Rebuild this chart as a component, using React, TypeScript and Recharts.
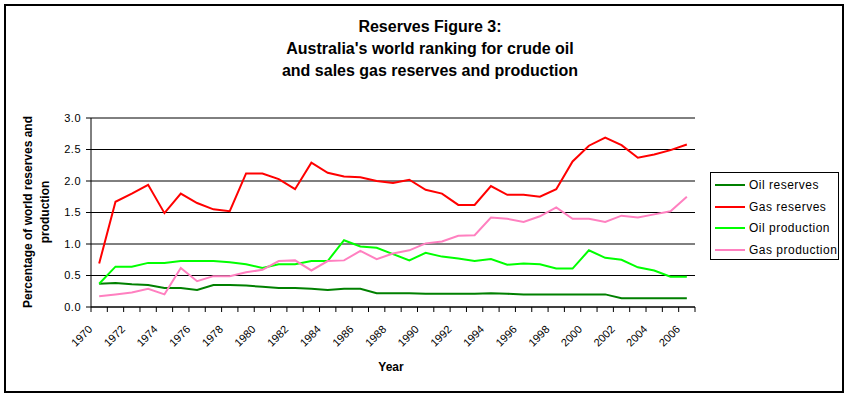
import React from 'react';
import { LineChart, Line, XAxis, YAxis, CartesianGrid, Legend } from 'recharts';

const years = [
  '1970', '1971', '1972', '1973', '1974', '1975', '1976', '1977', '1978', '1979',
  '1980', '1981', '1982', '1983', '1984', '1985', '1986', '1987', '1988', '1989',
  '1990', '1991', '1992', '1993', '1994', '1995', '1996', '1997', '1998', '1999',
  '2000', '2001', '2002', '2003', '2004', '2005', '2006',
];

const oilReserves = [
  0.37, 0.38, 0.36, 0.35, 0.3, 0.3, 0.27, 0.35, 0.35, 0.34,
  0.32, 0.3, 0.3, 0.29, 0.27, 0.29, 0.29, 0.22, 0.22, 0.22,
  0.21, 0.21, 0.21, 0.21, 0.22, 0.21, 0.2, 0.2, 0.2, 0.2,
  0.2, 0.2, 0.14, 0.14, 0.14, 0.14, 0.14,
];

const gasReserves = [
  0.69, 1.67, 1.8, 1.94, 1.49, 1.8, 1.65, 1.55, 1.52, 2.12,
  2.12, 2.03, 1.87, 2.29, 2.13, 2.07, 2.06, 2.0, 1.97, 2.02,
  1.86, 1.8, 1.62, 1.62, 1.92, 1.78, 1.78, 1.75, 1.87, 2.31,
  2.56, 2.69, 2.57, 2.37, 2.42, 2.49, 2.58,
];

const oilProduction = [
  0.37, 0.64, 0.64, 0.7, 0.7, 0.73, 0.73, 0.73, 0.71, 0.68,
  0.62, 0.68, 0.68, 0.73, 0.73, 1.06, 0.96, 0.94, 0.84, 0.74,
  0.86, 0.8, 0.77, 0.73, 0.76, 0.67, 0.69, 0.68, 0.61, 0.61,
  0.9, 0.78, 0.75, 0.63, 0.58, 0.48, 0.48,
];

const gasProduction = [
  0.17, 0.2, 0.23, 0.29, 0.2, 0.62, 0.41, 0.49, 0.49, 0.55,
  0.59, 0.73, 0.74, 0.58, 0.73, 0.74, 0.89, 0.76, 0.85, 0.9,
  1.01, 1.04, 1.13, 1.14, 1.42, 1.4, 1.35, 1.44, 1.58, 1.4,
  1.4, 1.35, 1.45, 1.42, 1.47, 1.52, 1.75,
];

const yTicks = [0, 0.5, 1, 1.5, 2, 2.5, 3];

const series = [
  { key: 'oilReserves', name: 'Oil reserves', color: '#008000' },
  { key: 'gasReserves', name: 'Gas reserves', color: '#ff0000' },
  { key: 'oilProduction', name: 'Oil production', color: '#00ff00' },
  { key: 'gasProduction', name: 'Gas production', color: '#ff80c0' },
];

const data = years.map((year, i) => ({
  year,
  oilReserves: oilReserves[i],
  gasReserves: gasReserves[i],
  oilProduction: oilProduction[i],
  gasProduction: gasProduction[i],
}));

const W = 849;
const H = 397;
const margin = { top: 118, right: 154, bottom: 30, left: 0 };
const Y_AXIS_W = 91;
const PLOT_W = W - margin.right - margin.left - Y_AXIS_W;
const STEP = PLOT_W / years.length;
const FONT = '"Liberation Sans", Arial, sans-serif';

const YearTick = (props: any) => {
  const { x, y, payload, index } = props;
  const i = payload?.index ?? index;
  const half = STEP / 2;
  const lx = x - 6;
  const ly = y + 23;
  return (
    <g>
      <line x1={x - half} y1={y} x2={x - half} y2={y + 5} stroke="#000" />
      {i === years.length - 1 && <line x1={x + half} y1={y} x2={x + half} y2={y + 5} stroke="#000" />}
      {i % 2 === 0 && (
        <text
          x={lx}
          y={ly}
          transform={`rotate(-45 ${lx} ${ly})`}
          textAnchor="end"
          fontSize={11}
          fontFamily={FONT}
          fill="#000"
        >
          {payload.value}
        </text>
      )}
    </g>
  );
};

const LegendBox = (props: any) => {
  const items = [...(props.payload || [])].sort(
    (a: any, b: any) =>
      series.findIndex((s) => s.name === a.value) - series.findIndex((s) => s.name === b.value)
  );
  return (
    <div
      style={{
        width: 127,
        height: 86,
        border: '1px solid #000',
        background: '#fff',
        position: 'relative',
        fontFamily: FONT,
        fontSize: 12,
      }}
    >
      {items.map((item: any, i: number) => (
        <div
          key={item.value}
          style={{ position: 'absolute', left: 4, top: 4 + i * 21.7, height: 16, display: 'flex', alignItems: 'center' }}
        >
          <svg width={31} height={16}>
            <line x1={0} y1={8} x2={30} y2={8} stroke={item.color} strokeWidth={2} />
          </svg>
          <span style={{ marginLeft: 3, letterSpacing: 0.5, whiteSpace: 'nowrap' }}>{item.value}</span>
        </div>
      ))}
    </div>
  );
};

export default function App() {
  return (
    <div style={{ position: 'fixed', left: 0, top: 0, width: W, height: H, background: '#fff', overflow: 'hidden' }}>
      <div
        style={{
          position: 'absolute',
          left: 4,
          top: 4,
          width: 836,
          height: 385,
          border: '2px solid #000',
        }}
      />
      <div
        style={{
          position: 'absolute',
          left: 0,
          top: 16,
          width: 860,
          textAlign: 'center',
          fontFamily: FONT,
          fontWeight: 'bold',
          fontSize: 16,
          lineHeight: '22px',
        }}
      >
        <div>Reserves Figure 3:</div>
        <div>Australia's world ranking for crude oil</div>
        <div>and sales gas reserves and production</div>
      </div>
      <div
        style={{
          position: 'absolute',
          left: 37,
          top: 212,
          width: 240,
          transform: 'translate(-50%, -50%) rotate(-90deg)',
          textAlign: 'center',
          fontFamily: FONT,
          fontWeight: 'bold',
          fontSize: 12,
          lineHeight: '17px',
        }}
      >
        <div>Percentage of world reserves and</div>
        <div>production</div>
      </div>
      <div
        style={{
          position: 'absolute',
          left: 391,
          top: 367,
          transform: 'translate(-50%, -50%)',
          fontFamily: FONT,
          fontWeight: 'bold',
          fontSize: 12,
        }}
      >
        Year
      </div>
      <div style={{ position: 'absolute', left: 0, top: 0 }}>
        <LineChart width={W} height={H} data={data} margin={margin}>
          <CartesianGrid vertical={false} stroke="#000" />
          <XAxis
            dataKey="year"
            interval={0}
            padding={{ left: STEP / 2, right: STEP / 2 }}
            axisLine={{ stroke: '#000' }}
            tickLine={false}
            tickSize={0}
            tickMargin={0}
            height={60}
            tick={<YearTick />}
          />
          <XAxis
            xAxisId="top"
            dataKey="year"
            orientation="top"
            height={0}
            tick={false}
            tickLine={false}
            axisLine={{ stroke: '#808080' }}
          />
          <YAxis
            domain={[0, 3]}
            ticks={yTicks}
            interval={0}
            width={Y_AXIS_W}
            tickFormatter={(v: number) => v.toFixed(1)}
            tick={{ fill: '#000', fontSize: 11, fontFamily: FONT, letterSpacing: 0.5 }}
            tickSize={5}
            tickMargin={5}
            tickLine={{ stroke: '#000' }}
            axisLine={{ stroke: '#000' }}
          />
          <YAxis
            yAxisId="right"
            orientation="right"
            domain={[0, 3]}
            width={0}
            tick={false}
            tickLine={false}
            axisLine={{ stroke: '#808080' }}
          />
          <Legend
            layout="vertical"
            align="center"
            verticalAlign="middle"
            wrapperStyle={{ left: 710, top: 172, width: 129, height: 88 }}
            content={<LegendBox />}
          />
          {series.map((s) => (
            <Line
              key={s.key}
              type="linear"
              dataKey={s.key}
              name={s.name}
              stroke={s.color}
              strokeWidth={2}
              dot={false}
              activeDot={false}
              isAnimationActive={false}
            />
          ))}
        </LineChart>
      </div>
    </div>
  );
}
